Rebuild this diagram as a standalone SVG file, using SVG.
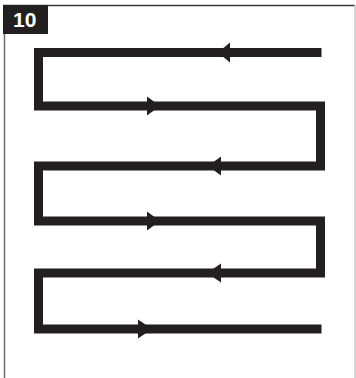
<svg xmlns="http://www.w3.org/2000/svg" width="356" height="378" viewBox="0 0 356 378">
  <style>
    .frame { fill: none; stroke-width: 1.5; }
    .path { fill: none; stroke: #231f20; stroke-width: 9; stroke-linejoin: miter; stroke-linecap: butt; }
    .arrow { fill: #231f20; }
    .label { font-family: "Liberation Sans", Arial, sans-serif; font-weight: bold; font-size: 21px; fill: #ffffff; }
  </style>
  <rect width="356" height="378" fill="#ffffff"/>
  <g id="frame">
    <line class="frame" x1="3" y1="5.5" x2="355" y2="5.5" stroke="#3a3a3a"/>
    <line class="frame" x1="4.5" y1="5" x2="4.5" y2="378" stroke="#6b6b6b"/>
    <line class="frame" x1="355" y1="5" x2="355" y2="378" stroke="#c8c8c8"/>
  </g>
  <g id="label">
    <rect x="3" y="5" width="45" height="29" fill="#231f20"/>
    <text class="label" x="13" y="27">10</text>
  </g>
  <g id="connectors">
    <path class="path" d="M321.5,52.5 H38.5 V106 H320.5 V166 H38.5 V221 H320.5 V273 H38.5 V329 H321.5"/>
    <polygon class="arrow" points="218,52.5 230,42.5 230,62.5"/>
    <polygon class="arrow" points="160,106 147,96.5 147,115.5"/>
    <polygon class="arrow" points="208,166 221,156.5 221,175.5"/>
    <polygon class="arrow" points="160,221 147,211.5 147,230.5"/>
    <polygon class="arrow" points="207,273 221,263.5 221,282.5"/>
    <polygon class="arrow" points="152,329 138,319.5 138,338.5"/>
  </g>
</svg>
